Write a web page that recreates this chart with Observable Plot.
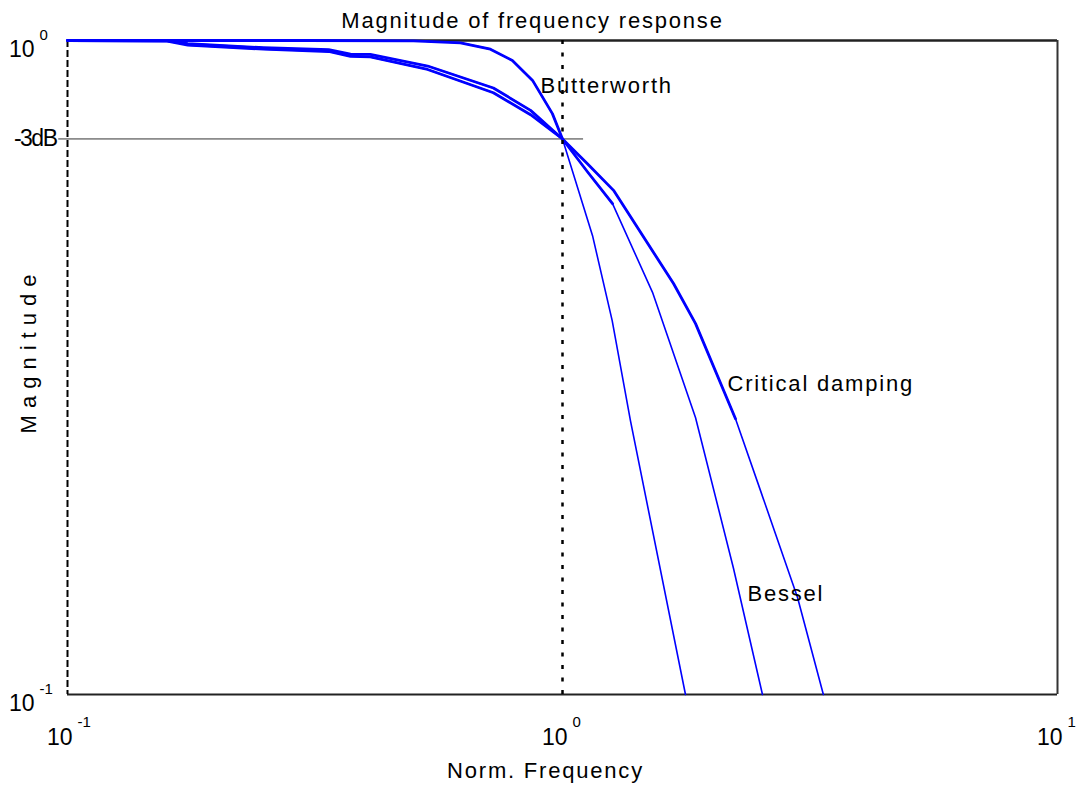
<!DOCTYPE html>
<html><head><meta charset="utf-8">
<script src="https://cdn.jsdelivr.net/npm/d3@7"></script>
<script src="https://cdn.jsdelivr.net/npm/@observablehq/plot@0.6"></script>
<style>body{margin:0;background:#fff} svg{display:block}</style>
</head><body><div id="chart"></div>
<script>
// ---- data ----
const seriesNames = ["Butterworth", "Bessel", "Critical damping"];

const butterworthFreq = [0.1, 0.3, 0.5, 0.622, 0.715, 0.792, 0.870, 0.954, 1.0, 1.15, 1.26, 1.372, 1.772];
const butterworthMag  = [1, 1, 0.999, 0.992, 0.970, 0.932, 0.869, 0.773, 0.707, 0.503, 0.373, 0.262, 0.1];

const besselFreq = [0.1, 0.159, 0.175, 0.249, 0.337, 0.373, 0.409, 0.534, 0.725, 0.862, 1.0, 1.123, 1.262, 1.52, 1.857, 2.215, 2.535];
const besselMag  = [1, 0.999, 0.989, 0.975, 0.968, 0.953, 0.952, 0.914, 0.846, 0.782, 0.707, 0.630, 0.563, 0.412, 0.265, 0.156, 0.1];

const criticalFreq = [0.1, 0.159, 0.175, 0.249, 0.337, 0.373, 0.409, 0.534, 0.725, 0.862, 1.0, 1.123, 1.268, 1.676, 1.857, 2.236, 2.512, 2.984, 3.365];
const criticalMag  = [1, 0.998, 0.984, 0.970, 0.962, 0.946, 0.944, 0.903, 0.832, 0.770, 0.707, 0.648, 0.590, 0.425, 0.369, 0.264, 0.205, 0.1407, 0.1];

const labelText = ["Butterworth", "Critical damping", "Bessel"];
const labelFreq = [0.903, 2.154, 2.364];
const labelMag  = [0.853, 0.298, 0.1427];

const xTickValues = [0.1, 1, 10];
const xTickExps   = ["-1", "0", "1"];
const yTickValues = [1, 0.1];
const yTickExps   = ["0", "-1"];
const minus3dB = 0.7071;
const minus3dBLabel = "-3dB";
const cutoffFreq = 1;
const refLineEnds = [0.096, 1.103];

const titleText = "Magnitude of frequency response";
const xLabel = "Norm. Frequency";
const yLabel = "Magnitude";

// ---- build rows ----
const freqs = [butterworthFreq, besselFreq, criticalFreq];
const mags = [butterworthMag, besselMag, criticalMag];
const rows = [];
seriesNames.forEach((s, k) => freqs[k].forEach((f, i) => rows.push({series: s, f, m: mags[k][i]})));
const labels = labelText.map((t, i) => ({t, f: labelFreq[i], m: labelMag[i]}));

// style: portion drawn with heavier pen
const thickUntil = {"Butterworth": 1.0, "Bessel": 1.262, "Critical damping": 2.236};

const blue = "#0000ff";
const plot = Plot.plot({
  width: 1081, height: 787,
  marginLeft: 67, marginRight: 24, marginTop: 40, marginBottom: 93,
  x: {type: "log", domain: [0.1, 10], axis: null},
  y: {type: "log", domain: [0.1, 1], axis: null},
  style: {fontFamily: "'Liberation Sans', Arial, sans-serif", background: "#fff", color: "#000", letterSpacing: "1.8px"},
  marks: [
    Plot.ruleY([yTickValues[0]], {x1: xTickValues[0], x2: xTickValues[2], stroke: "#222", strokeWidth: 2.5}),
    Plot.ruleY([yTickValues[1]], {x1: xTickValues[0], x2: xTickValues[2], stroke: "#222", strokeWidth: 2}),
    Plot.ruleX([xTickValues[2]], {stroke: "#333", strokeWidth: 2}),
    Plot.ruleX([xTickValues[0]], {stroke: "#000", strokeWidth: 2, strokeDasharray: "7,3"}),
    Plot.ruleY([minus3dB], {x1: refLineEnds[0], x2: refLineEnds[1], stroke: "#333", strokeWidth: 1}),
    Plot.line(rows, {x: "f", y: "m", z: "series", stroke: blue, strokeWidth: 1.6}),
    Plot.line(rows.filter(d => d.f <= thickUntil[d.series]), {x: "f", y: "m", z: "series", stroke: blue, strokeWidth: 2.8}),
    Plot.ruleX([cutoffFreq], {stroke: "#000", strokeWidth: 2.5, strokeDasharray: "4,8.5"}),
    Plot.text(labels, {x: "f", y: "m", text: "t", textAnchor: "start", lineAnchor: "middle", fontSize: 22, fill: "#000"}),
    // title & axis labels
    Plot.text([titleText], {frameAnchor: "top", lineAnchor: "middle", textAnchor: "middle", dx: -30, dy: -20, fontSize: 22}),
    Plot.text([xLabel], {frameAnchor: "bottom", lineAnchor: "middle", textAnchor: "middle", dx: -17, dy: 76, fontSize: 22}),
    Plot.text([yLabel], {frameAnchor: "left", rotate: -90, textAnchor: "middle", lineAnchor: "middle", dx: -39, dy: -17, fontSize: 22}),
    // x tick labels
    Plot.text(xTickValues, {x: d => d, frameAnchor: "bottom", lineAnchor: "middle", text: () => "10", textAnchor: "end", dx: 5, dy: 43, fontSize: 23}),
    Plot.text(xTickValues, {x: d => d, frameAnchor: "bottom", lineAnchor: "middle", text: (d, i) => xTickExps[i], textAnchor: "start", dx: 10, dy: 28, fontSize: 15}),
    // y tick labels
    Plot.text(yTickValues, {y: d => d, frameAnchor: "left", lineAnchor: "middle", text: () => "10", textAnchor: "end", dx: -33, dy: 9.5, fontSize: 23}),
    Plot.text(yTickValues, {y: d => d, frameAnchor: "left", lineAnchor: "middle", text: (d, i) => yTickExps[i], textAnchor: "start", dx: -28, dy: -5, fontSize: 15}),
    Plot.text([minus3dB], {y: d => d, frameAnchor: "left", lineAnchor: "middle", text: () => minus3dBLabel, textAnchor: "end", dx: -11, fontSize: 23})
  ]
});
d3.select(plot).selectAll("text").each(function () {
  const t = this.textContent;
  if (t === yLabel) this.setAttribute("letter-spacing", "7px");
  if (t === minus3dBLabel) this.setAttribute("letter-spacing", "-1.5px");
  if (t === "10" || xTickExps.includes(t) || yTickExps.includes(t)) this.setAttribute("letter-spacing", "0px");
});
document.getElementById("chart").appendChild(plot);
</script>
</body></html>
